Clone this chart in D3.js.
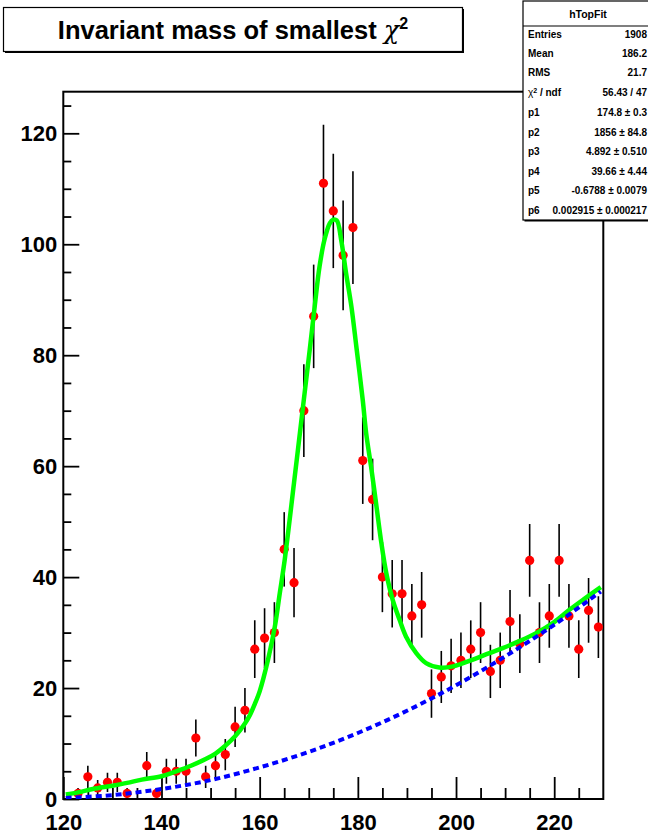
<!DOCTYPE html>
<html><head><meta charset="utf-8">
<script src="https://cdn.jsdelivr.net/npm/d3@7"></script>
<style>
body{margin:0;background:#fff}
svg{display:block}
text{font-family:"Liberation Sans",Arial,Helvetica,sans-serif;font-weight:bold;fill:#000}
</style>
</head><body>
<svg id="c" width="648" height="834"></svg>
<script>
// ---- data ----
const masses = [121,123,125,127,129,131,133,135,137,139,141,143,145,147,149,151,153,155,157,159,
  161,163,165,167,169,171,173,175,177,179,181,183,185,187,189,191,193,195,197,199,
  201,203,205,207,209,211,213,215,217,219,221,223,225,227,229];
const counts = [0,1,4,2,3,3,1,0,6,1, 5,5,5,11,4,6,8,13,16,27,
  29,30,45,39,70,87,111,106,98,103, 61,54,40,37,37,33,35,19,22,24,
  25,27,30,23,25,32,28,43,30,33, 43,33,27,34,31];
const errors = [0,1,2,1.41,1.73,1.73,1,0,2.45,1, 2.24,2.24,2.24,3.32,2,2.45,2.83,3.61,4,5.2,
  5.39,5.48,6.71,6.24,8.37,9.33,10.54,10.3,9.9,10.15, 7.81,7.35,6.32,6.08,6.08,5.74,5.92,4.36,4.69,4.9,
  5,5.2,5.48,4.8,5,5.66,5.29,6.56,5.48,5.74, 6.56,5.74,5.2,5.83,5.57];

// total fit curve (green), read at sample masses
const fitMass = [120.5,123,126,130,133,136,140,143,146,149,151,153,155,157,158,159,160,161.7,163.1,164.1,165.1,
  167,169,170.2,171.2,172.2,173.2,174.3,174.9,175.7,176.6,177.6,178.7,179.7,181,181.7,182.7,183.8,184.8,185.8,
  187.1,188.5,189.8,191.9,193.9,196.6,199.4,203,206.8,209.5,213,216.3,220,223.1,226,229.5];
const fitValue = [0.8,1.2,1.8,2.4,2.9,3.5,4.1,5.0,6.0,7.2,8.2,9.6,11.3,13.6,15.1,17.1,19.4,25.1,31.1,37.1,43.1,
  57,72,81,88.7,96,100.8,103.8,104.4,104.3,100.8,94.8,88.7,81.5,71.9,65.9,59.9,52.7,46.1,40.7,
  35.9,32.3,29.3,26.3,24.5,23.7,23.9,25.0,26.3,27.2,28.5,29.9,31.9,34.1,36.0,38.2];

// background curve (blue dashed)
const bkgMass = [120.5,130,140,150,160,170,180,190,200,210,220,229.5];
const bkgValue = [0.2,0.7,1.8,3.4,5.7,8.5,11.9,15.9,20.5,25.7,31.4,37.4];

const xTickLabels = [120,140,160,180,200,220];
const xMinorTicks = [125,130,135,145,150,155,165,170,175,185,190,195,205,210,215,225];
const yTickLabels = [0,20,40,60,80,100,120];
const yMinorTicks = [5,10,15,25,30,35,45,50,55,65,70,75,85,90,95,105,110,115,125];

const titleText = "Invariant mass of smallest ";
const statsName = "hTopFit";
const statsLabels = ["Entries","Mean","RMS","χ² / ndf","p1","p2","p3","p4","p5","p6"];
const statsValues = ["1908","186.2","21.7","56.43 / 47","174.8 ± 0.3","1856 ± 84.8",
  "4.892 ± 0.510","39.66 ± 4.44","-0.6788 ± 0.0079","0.002915 ± 0.000217"];

// ---- drawing ----
const svg = d3.select("#c");
svg.append("rect").attr("width",648).attr("height",834).attr("fill","#fff");

const L = 63.3, R = 603.3, T = 91.7, B = 799;
const x = d3.scaleLinear().domain([120,230]).range([L,R]);
const y = d3.scaleLinear().domain([0,127.5]).range([B,T]);

svg.append("clipPath").attr("id","plotclip").append("rect")
  .attr("x",L).attr("y",T).attr("width",R-L).attr("height",B-T);

// axes
const gx = svg.append("g").attr("transform",`translate(0,${B})`);
gx.call(d3.axisBottom(x).tickValues(xTickLabels).tickSize(-22).tickSizeOuter(0)
  .tickPadding(15).tickFormat(d3.format("d")));
const gxm = svg.append("g").attr("transform",`translate(0,${B})`);
gxm.call(d3.axisBottom(x).tickValues(xMinorTicks).tickSize(-11).tickSizeOuter(0).tickFormat(""));

const gy = svg.append("g").attr("transform",`translate(${L},0)`);
gy.call(d3.axisLeft(y).tickValues(yTickLabels).tickSize(-16).tickSizeOuter(0)
  .tickPadding(6).tickFormat(d3.format("d")));
const gym = svg.append("g").attr("transform",`translate(${L},0)`);
gym.call(d3.axisLeft(y).tickValues(yMinorTicks).tickSize(-8).tickSizeOuter(0).tickFormat(""));

[gx,gxm,gy,gym].forEach(g=>{
  g.select(".domain").remove();
  g.selectAll(".tick line").attr("stroke","#000").attr("stroke-width",1.8);
  g.selectAll(".tick text").attr("font-size",22).attr("font-family","'Liberation Sans',Arial,sans-serif")
    .attr("font-weight","bold").attr("fill","#000");
});

// frame
svg.append("rect").attr("x",L).attr("y",T).attr("width",R-L).attr("height",B-T)
  .attr("fill","none").attr("stroke","#000").attr("stroke-width",2);

const plot = svg.append("g").attr("clip-path","url(#plotclip)");
const pts = masses.map((m,i)=>({m, c:counts[i], e:errors[i]})).filter(d=>d.c>0);

// error bars
plot.selectAll("line.err").data(pts).join("line").attr("class","err")
  .attr("x1",d=>x(d.m)).attr("x2",d=>x(d.m))
  .attr("y1",d=>y(Math.max(0,d.c-d.e))).attr("y2",d=>y(d.c+d.e))
  .attr("stroke","#000").attr("stroke-width",1.6);

// markers
plot.selectAll("circle.pt").data(pts).join("circle").attr("class","pt")
  .attr("cx",d=>x(d.m)).attr("cy",d=>y(d.c)).attr("r",4.6).attr("fill","#ff0000");

// fit curve
const fitPts = fitMass.map((m,i)=>[m,fitValue[i]]);
plot.append("path").datum(fitPts)
  .attr("d",d3.line().x(d=>x(d[0])).y(d=>y(d[1])).curve(d3.curveCatmullRom.alpha(0.5)))
  .attr("fill","none").attr("stroke","#00ff00").attr("stroke-width",4.5);

// background
const bkgPts = bkgMass.map((m,i)=>[m,bkgValue[i]]);
plot.append("path").datum(bkgPts)
  .attr("d",d3.line().x(d=>x(d[0])).y(d=>y(d[1])).curve(d3.curveCatmullRom.alpha(0.5)))
  .attr("fill","none").attr("stroke","#0000ff").attr("stroke-width",4).attr("stroke-dasharray","6,4");

// title box
const tb = svg.append("g");
tb.append("rect").attr("x",5).attr("y",9).attr("width",459).attr("height",44).attr("fill","#000");
tb.append("rect").attr("x",3.5).attr("y",7.5).attr("width",459).attr("height",44)
  .attr("fill","#fff").attr("stroke","#000").attr("stroke-width",1.2);
const tt = tb.append("text").attr("x",233).attr("y",39).attr("text-anchor","middle")
  .attr("font-size",25.5);
tt.append("tspan").text(titleText);
tt.append("tspan").attr("font-weight","normal").attr("font-family","'DejaVu Serif',serif").attr("font-style","italic").text("χ");
tt.append("tspan").attr("font-size",16).attr("dy",-10).text("2");

// stats box
const sb = svg.append("g");
sb.append("rect").attr("x",524.5).attr("y",2.5).attr("width",132).attr("height",219).attr("fill","#000");
sb.append("rect").attr("x",523).attr("y",1).attr("width",132).attr("height",219)
  .attr("fill","#fff").attr("stroke","#000").attr("stroke-width",1.2);
sb.append("line").attr("x1",523).attr("x2",655).attr("y1",26).attr("y2",26)
  .attr("stroke","#000").attr("stroke-width",1.2);
sb.append("text").attr("x",588).attr("y",18).attr("text-anchor","middle").attr("font-size",10.5).text(statsName);
const rowY = [34,53,72,92,112,132,151,171,190,210];
statsLabels.forEach((lab,i)=>{
  const t = sb.append("text").attr("x",528).attr("y",rowY[i]+3.5).attr("font-size",10);
  if (lab.startsWith("χ")) {
    t.append("tspan").attr("font-weight","normal").text("χ");
    t.append("tspan").attr("font-size",7).attr("dy",-3).text("2");
    t.append("tspan").attr("dy",3).text(" / ndf");
  } else t.text(lab);
  sb.append("text").attr("x",647).attr("y",rowY[i]+3.5).attr("text-anchor","end")
    .attr("font-size",10).text(statsValues[i]);
});
</script>
</body></html>
